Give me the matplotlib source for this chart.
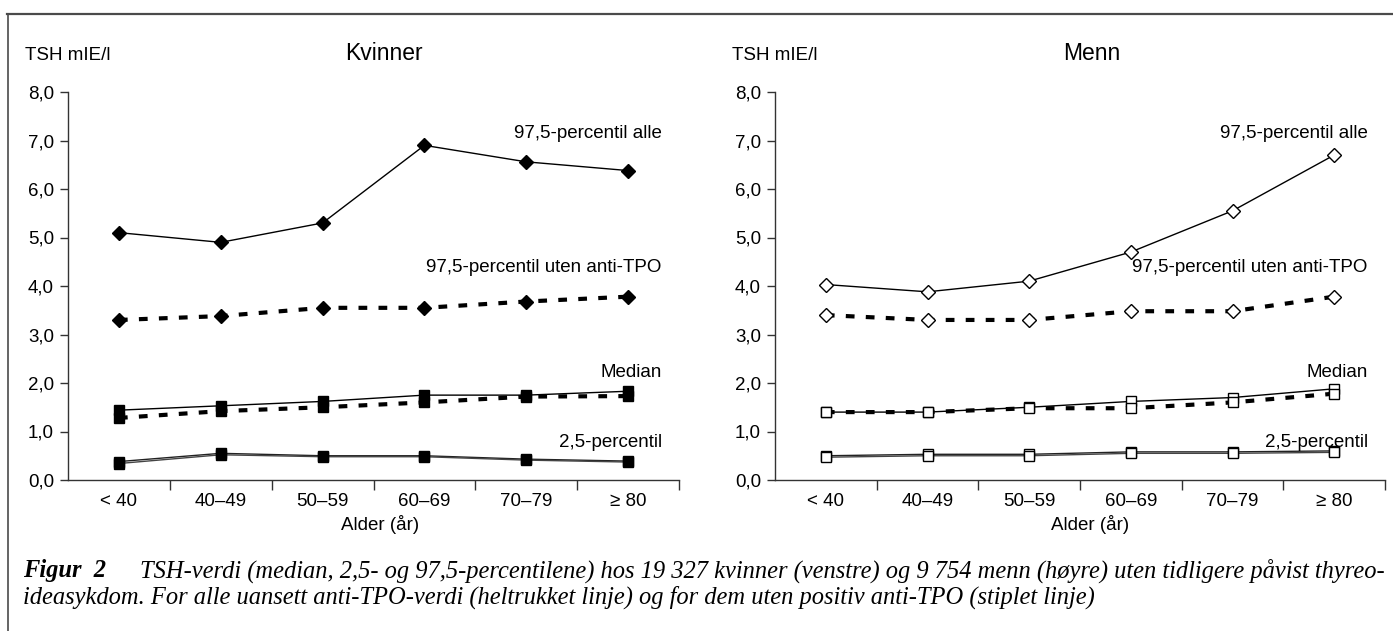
import matplotlib
matplotlib.use("Agg")
import matplotlib.pyplot as plt
from matplotlib.lines import Line2D

# ---------------- data ----------------
categories = ['< 40', '40–49', '50–59', '60–69', '70–79', '≥ 80']
yticks = [0, 1, 2, 3, 4, 5, 6, 7, 8]
ytick_labels = ['0,0', '1,0', '2,0', '3,0', '4,0', '5,0', '6,0', '7,0', '8,0']

kv_p975_alle = [5.10, 4.90, 5.30, 6.90, 6.56, 6.38]
kv_p975_uten = [3.30, 3.38, 3.55, 3.55, 3.68, 3.78]
kv_med_alle = [1.44, 1.53, 1.62, 1.75, 1.75, 1.83]
kv_med_uten = [1.28, 1.42, 1.50, 1.60, 1.72, 1.73]
kv_p25_alle = [0.38, 0.55, 0.50, 0.50, 0.43, 0.39]
kv_p25_uten = [0.34, 0.52, 0.48, 0.48, 0.41, 0.37]

men_p975_alle = [4.03, 3.88, 4.10, 4.70, 5.55, 6.70]
men_p975_uten = [3.40, 3.30, 3.30, 3.48, 3.48, 3.78]
men_med_alle = [1.40, 1.40, 1.50, 1.62, 1.70, 1.88]
men_med_uten = [1.40, 1.40, 1.48, 1.48, 1.60, 1.78]
men_p25_alle = [0.50, 0.53, 0.53, 0.58, 0.58, 0.60]
men_p25_uten = [0.47, 0.50, 0.50, 0.55, 0.55, 0.57]

series_labels = ['97,5-percentil alle', '97,5-percentil uten anti-TPO', 'Median', '2,5-percentil']
label_y = [7.14, 4.38, 2.21, 0.77]

titles = ['Kvinner', 'Menn']
ylabel_text = 'TSH mIE/l'
xlabel_text = 'Alder (år)'
caption_bold = 'Figur  2'
caption_line1 = ('TSH-verdi (median, 2,5- og 97,5-percentilene) hos 19 327 kvinner (venstre) '
                 'og 9 754 menn (høyre) uten tidligere påvist thyreo-')
caption_line2 = ('ideasykdom. For alle uansett anti-TPO-verdi (heltrukket linje) og for dem '
                 'uten positiv anti-TPO (stiplet linje)')

# ---------------- figure ----------------
W, H = 1393, 631
fig = plt.figure(figsize=(W / 100, H / 100), dpi=100)
plt.rcParams['font.family'] = ['Liberation Sans', 'DejaVu Sans']

def fx(px):
    return px / W

def fy(py):
    return 1 - py / H

# frame lines (top and left)
fig.add_artist(Line2D([fx(7), 1.0], [fy(14), fy(14)], color='#4a4a4a', lw=1.6))
fig.add_artist(Line2D([fx(8), fx(8)], [fy(14), 0.0], color='#4a4a4a', lw=1.2))

panels = [
    dict(x0=68, x1=679, title_x=384, xlabel_x=380,
         data=[kv_p975_alle, kv_p975_uten, kv_med_alle, kv_med_uten, kv_p25_alle, kv_p25_uten],
         filled=True),
    dict(x0=775, x1=1385, title_x=1092, xlabel_x=1090,
         data=[men_p975_alle, men_p975_uten, men_med_alle, men_med_uten, men_p25_alle, men_p25_uten],
         filled=False),
]

y_top, y_bot = 92, 480
fs_tick = 13.5
x = list(range(len(categories)))

for i, p in enumerate(panels):
    ax = fig.add_axes([fx(p['x0']), fy(y_bot), fx(p['x1'] - p['x0']), (y_bot - y_top) / H])
    ax.set_xlim(-0.5, len(categories) - 0.5)
    ax.set_ylim(0, 8)
    for s in ['top', 'right']:
        ax.spines[s].set_visible(False)
    for s in ['left', 'bottom']:
        ax.spines[s].set_color('#333333')
        ax.spines[s].set_linewidth(1.0)
    ax.set_yticks(yticks)
    ax.set_yticklabels(ytick_labels, fontsize=fs_tick)
    ax.tick_params(axis='y', length=6, width=1.0, color='#333333', pad=4)
    ax.set_xticks(x)
    ax.set_xticklabels(categories, fontsize=fs_tick)
    ax.tick_params(axis='x', which='major', length=0, pad=9)
    ax.set_xticks([k + 0.5 for k in x], minor=True)
    ax.tick_params(axis='x', which='minor', length=7, width=1.0, color='#333333', direction='out')

    d = p['data']
    if p['filled']:
        fc = 'black'
    else:
        fc = 'white'
    dmk = dict(marker='D', markersize=7.6, markerfacecolor=fc, markeredgecolor='black',
               markeredgewidth=1.0)
    smk = dict(marker='s', markersize=7.8, markerfacecolor=fc, markeredgecolor='black',
               markeredgewidth=1.0)
    dash = dict(color='black', lw=3.0, dashes=(2.1, 2.7), dash_capstyle='butt')
    solid = dict(color='black', lw=1.0)

    # 97,5 alle (solid) and uten (dashed)
    ax.plot(x, d[0], **solid, zorder=2)
    ax.plot(x, d[0], ls='none', **dmk, zorder=4)
    ax.plot(x, d[1], **dash, zorder=2)
    ax.plot(x, d[1], ls='none', **dmk, zorder=4)
    # median
    ax.plot(x, d[2], **solid, zorder=2)
    ax.plot(x, d[3], **dash, zorder=2)
    ax.plot(x, d[2], ls='none', **smk, zorder=4)
    ax.plot(x, d[3], ls='none', **smk, zorder=4)
    # 2,5 percentile (drawn as two thin lines)
    ax.plot(x, d[4], color='#222222', lw=1.0, zorder=2)
    ax.plot(x, d[5], color='#444444', lw=1.0, zorder=2)
    ax.plot(x, d[4], ls='none', **smk, zorder=4)
    ax.plot(x, d[5], ls='none', **smk, zorder=4)

    for lab, ly in zip(series_labels, label_y):
        ax.text(5.33, ly, lab, ha='right', va='center', fontsize=fs_tick)

    # titles and labels in figure coordinates
    fig.text(fx(p['title_x']), fy(53), titles[i], ha='center', va='center', fontsize=16.5)
    fig.text(fx(p['x0'] - 43), fy(55), ylabel_text, ha='left', va='center', fontsize=fs_tick)
    fig.text(fx(p['xlabel_x']), fy(525), xlabel_text, ha='center', va='center', fontsize=fs_tick)

# ---------------- caption ----------------
fig.canvas.draw()
renderer = fig.canvas.get_renderer()
serif = ['Liberation Serif', 'DejaVu Serif']

def caption_width(fs):
    t1 = fig.text(0, 0, caption_bold, family=serif, style='italic', weight='bold', fontsize=fs)
    t2 = fig.text(0, 0, caption_line1, family=serif, style='italic', fontsize=fs)
    w = t1.get_window_extent(renderer).width + t2.get_window_extent(renderer).width
    t1.remove(); t2.remove()
    return w

cap_x0 = 23
cap_x1 = 1389
gap = 34
fs_cap = 14.0
w = caption_width(fs_cap)
fs_cap = fs_cap * (cap_x1 - cap_x0 - gap) / w

tb = fig.text(fx(cap_x0), fy(571), caption_bold, family=serif, style='italic',
              weight='bold', fontsize=fs_cap, ha='left', va='center')
bb = tb.get_window_extent(renderer)
fig.text((bb.x1 + gap) / W, fy(571), caption_line1, family=serif, style='italic',
         fontsize=fs_cap, ha='left', va='center')
fig.text(fx(cap_x0), fy(597), caption_line2, family=serif, style='italic',
         fontsize=fs_cap, ha='left', va='center')

fig.savefig('out.png', dpi=100)
